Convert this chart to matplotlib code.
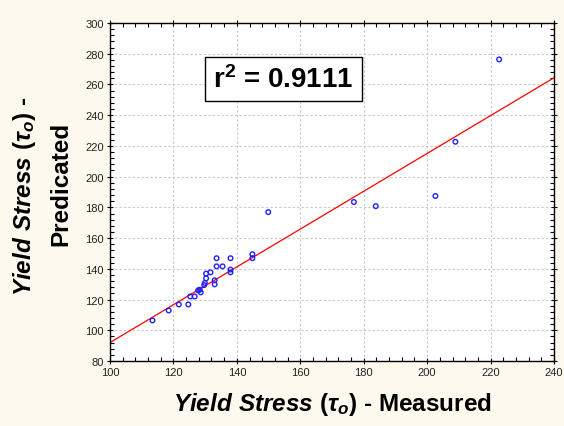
import matplotlib
matplotlib.use('Agg')
import matplotlib.pyplot as plt
import matplotlib.ticker as ticker

plt.rcParams['font.family'] = ['Liberation Sans', 'DejaVu Sans']
plt.rcParams['mathtext.fontset'] = 'custom'
plt.rcParams['mathtext.it'] = 'Liberation Sans:italic:bold'
plt.rcParams['mathtext.rm'] = 'Liberation Sans:bold'
plt.rcParams['mathtext.bf'] = 'Liberation Sans:bold'

# measured vs predicted yield stress
measured = [113.4, 118.5, 121.7, 124.7, 125.3, 126.7, 127.8, 128.6, 128.3,
            129.7, 129.9, 130.3, 130.3, 131.7, 133.0, 133.0, 133.6, 133.6,
            135.5, 138.0, 138.0, 138.0, 144.9, 144.9, 149.9, 176.9, 183.8,
            202.6, 208.9, 222.7]
predicted = [106.4, 112.9, 116.8, 116.8, 122.0, 122.0, 126.0, 124.7, 126.4,
             129.4, 130.8, 133.8, 136.9, 137.7, 132.5, 129.9, 141.6, 146.9,
             141.6, 146.9, 139.5, 137.7, 149.5, 146.9, 176.9, 183.5, 180.8,
             187.4, 222.7, 276.3]
fit_slope = 1.231
fit_intercept = -31.1
r2_text = r'r$^{2}$ = 0.9111'
label_var = r'$\mathit{Yield\ Stress\ (\tau_o)}$'

fig = plt.figure(figsize=(5.64, 4.27), dpi=100)
fig.patch.set_facecolor('#fdf9ee')
ax = fig.add_axes([110/564, 1 - 362/427, 444/564, 338/427])
ax.set_facecolor('white')

ax.scatter(measured, predicted, s=11, facecolors='none', edgecolors='#1f1fff',
           linewidths=1.0, zorder=3)
xs = [100, 240]
ax.plot(xs, [fit_slope * v + fit_intercept for v in xs], color='red', lw=0.9, zorder=2)

ax.set_xlim(100, 240)
ax.set_ylim(80, 300)
ax.xaxis.set_major_locator(ticker.MultipleLocator(20))
ax.yaxis.set_major_locator(ticker.MultipleLocator(20))
ax.xaxis.set_minor_locator(ticker.MultipleLocator(4))
ax.yaxis.set_minor_locator(ticker.MultipleLocator(4))
ax.tick_params(which='major', direction='inout', length=5, width=0.8,
               labelsize=8, labelcolor='#222222', top=True, right=True, pad=2)
ax.tick_params(which='minor', direction='in', length=3, width=0.8, top=True, right=True)
ax.tick_params(labeltop=False, labelright=False)
ax.grid(True, which='major', color='#c8c8c8', linestyle=(0, (2, 2)), lw=0.8)
for sp in ax.spines.values():
    sp.set_linewidth(1.0)

fig.text(332/564, 1 - 405/427, label_var + ' - Measured', fontsize=17.5,
         fontweight='bold', ha='center', va='center')
fig.text(25/564, 1 - 196/427, label_var + ' -', fontsize=17.5,
         fontweight='bold', rotation=90, ha='center', va='center')
fig.text(61/564, 1 - 184/427, 'Predicated', fontsize=17.5, fontweight='bold',
         rotation=90, ha='center', va='center')

ax.text(0.39, 0.834, r2_text, transform=ax.transAxes, fontsize=20,
        fontweight='bold', ha='center', va='center',
        bbox=dict(boxstyle='square,pad=0.3', facecolor='white',
                  edgecolor='black', linewidth=1.0))

fig.savefig('out.png', dpi=100, facecolor=fig.get_facecolor())
